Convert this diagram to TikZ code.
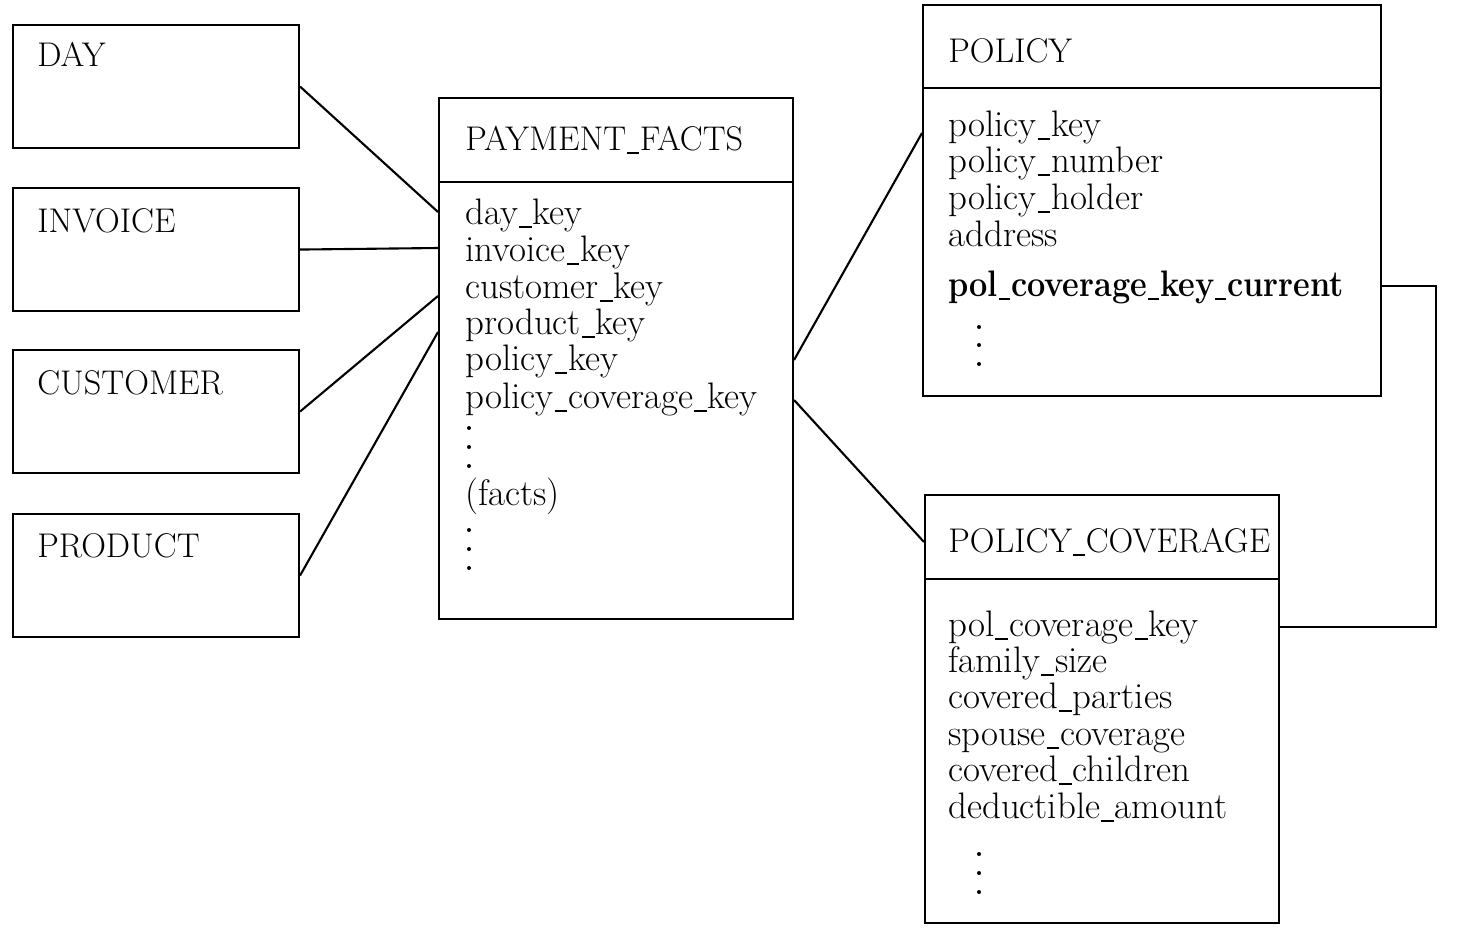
\documentclass[tikz,border=0pt]{standalone}
\usepackage{graphicx}
\usetikzlibrary{calc}
\newcommand\usc{\kern0.03em\rule[-0.11em]{0.34em}{0.045em}\kern0.03em}
\begin{document}
\begin{tikzpicture}[x=0.02cm,y=-0.02cm,
  box/.style={draw, line width=1.2pt, anchor=north west, inner sep=0pt},
  ttxt/.style={anchor=base west, inner sep=0pt, font=\fontsize{19.5}{22}\selectfont},
  txt/.style={anchor=base west, inner sep=0pt, font=\fontsize{21}{23}\selectfont},
  btxt/.style={txt, font=\fontsize{21}{23}\selectfont\bfseries},
  conn/.style={line width=1.2pt},
  dotmark/.style={fill=black, draw=none, circle, minimum size=0.08cm, inner sep=0pt}
]
\useasboundingbox (0,0) rectangle (1470,944);
% dimension boxes
\node[box, minimum width=5.72cm, minimum height=2.46cm] (day) at (12,24) {};
\node[box, minimum width=5.72cm, minimum height=2.46cm] (invoice) at (12,187) {};
\node[box, minimum width=5.72cm, minimum height=2.46cm] (customer) at (12,349) {};
\node[box, minimum width=5.72cm, minimum height=2.46cm] (product) at (12,513) {};
\node[ttxt] (dayt) at (37,66) {DAY};
\node[ttxt] (invt) at (37,232) {INVOICE};
\node[ttxt] (cust) at (37,394) {CUSTOMER};
\node[ttxt] (prodt) at (37,557) {PRODUCT};
% fact table
\node[box, minimum width=7.08cm, minimum height=10.42cm] (pf) at (438,97) {};
\draw[conn] ($(pf.north west)+(0,85)$) coordinate (pfd1) -- ($(pf.north east)+(0,85)$) coordinate (pfd2);
\node[ttxt] (pft) at (465,150) {PAYMENT\usc FACTS};
\node[txt] (f1) at (465,224) {day\usc key};
\node[txt] (f2) at (465,261) {invoice\usc key};
\node[txt] (f3) at (465,298) {customer\usc key};
\node[txt] (f4) at (465,334) {product\usc key};
\node[txt] (f5) at (465,370) {policy\usc key};
\node[txt] (f6) at (465,408) {policy\usc coverage\usc key};
\node[dotmark] (pd1) at (469,428) {};
\node[dotmark] (pd2) at (469,447) {};
\node[dotmark] (pd3) at (469,466) {};
\node[txt] (f7) at (465,505) {(facts)};
\node[dotmark] (pd4) at (469,530) {};
\node[dotmark] (pd5) at (469,549) {};
\node[dotmark] (pd6) at (469,568) {};
% policy
\node[box, minimum width=9.16cm, minimum height=7.82cm] (pol) at (922,4) {};
\draw[conn] ($(pol.north west)+(0,84)$) coordinate (pold1) -- ($(pol.north east)+(0,84)$) coordinate (pold2);
\node[ttxt] (polt) at (948,62) {POLICY};
\node[txt] (p1) at (948,136) {policy\usc key};
\node[txt] (p2) at (948,172) {policy\usc number};
\node[txt] (p3) at (948,209) {policy\usc holder};
\node[txt] (p4) at (948,246) {address};
\node[btxt] (p5) at (948,296) {\scalebox{0.88}[1]{pol\usc coverage\usc key\usc current}};
\node[dotmark] (qd1) at (979,327) {};
\node[dotmark] (qd2) at (979,345) {};
\node[dotmark] (qd3) at (979,364) {};
% policy coverage
\node[box, minimum width=7.08cm, minimum height=8.56cm] (pc) at (924,494) {};
\draw[conn] ($(pc.north west)+(0,85)$) coordinate (pcd1) -- ($(pc.north east)+(0,85)$) coordinate (pcd2);
\node[ttxt] (pct) at (948,552) {POLICY\usc COVERAGE};
\node[txt] (c1) at (948,636) {pol\usc coverage\usc key};
\node[txt] (c2) at (948,672) {family\usc size};
\node[txt] (c3) at (948,708) {covered\usc parties};
\node[txt] (c4) at (948,745) {spouse\usc coverage};
\node[txt] (c5) at (948,781) {covered\usc children};
\node[txt] (c6) at (948,818) {deductible\usc amount};
\node[dotmark] (rd1) at (979,854) {};
\node[dotmark] (rd2) at (979,873) {};
\node[dotmark] (rd3) at (979,892) {};
% connectors
\draw[conn] (day.east) -- ($(pf.north west)+(0,115)$);
\draw[conn] (invoice.east) -- ($(pf.north west)+(0,151)$);
\draw[conn] (customer.east) -- ($(pf.north west)+(0,199)$);
\draw[conn] (product.east) -- ($(pf.north west)+(0,235)$);
\draw[conn] ($(pf.north east)+(0,263)$) -- ($(pol.north west)+(0,129)$);
\draw[conn] ($(pf.north east)+(0,303)$) -- ($(pc.north west)+(0,48)$);
\draw[conn] ($(pol.north east)+(0,282)$) -| ($(pol.north east)+(54,282)$) |- ($(pc.north east)+(0,133)$);
\end{tikzpicture}
\end{document}
